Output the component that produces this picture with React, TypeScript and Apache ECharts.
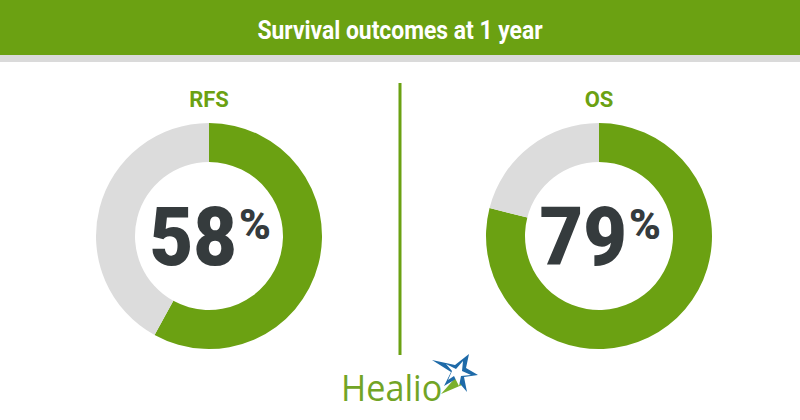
import React, { useEffect, useRef } from "react";
import * as echarts from "echarts";

const title = "Survival outcomes at 1 year";
const categories = ["RFS", "OS"];
const values = [58, 79];
const brand = "Healio";

const GREEN = "#6ba112";
const GRAY = "#dcdcdc";
const DARK = "#353b3d";

export default function App() {
  const ref = useRef<HTMLDivElement>(null);
  useEffect(() => {
    if (!ref.current) return;
    const chart = echarts.init(ref.current, null, { renderer: "svg" });
    const centersX = [209, 599];
    const cy = 236;
    const series: any[] = categories.map((c, i) => ({
      type: "pie",
      name: c,
      center: [centersX[i], cy],
      radius: [74, 113],
      startAngle: 90,
      clockwise: true,
      silent: true,
      label: { show: false },
      labelLine: { show: false },
      data: [
        { value: values[i], name: c, itemStyle: { color: GREEN } },
        { value: 100 - values[i], name: "rest", itemStyle: { color: GRAY } },
      ],
    }));
    const graphics: any[] = [
      { type: "rect", shape: { x: 0, y: 0, width: 800, height: 55 }, style: { fill: GREEN } },
      { type: "rect", shape: { x: 0, y: 55, width: 800, height: 7 }, style: { fill: "#dadada" } },
      {
        type: "text",
        x: 400,
        y: 30,
        scaleX: 0.88,
        style: {
          text: title,
          fill: "#ffffff",
          font: "bold 26px Roboto",
          align: "center",
          verticalAlign: "middle",
        },
      },
      {
        type: "line",
        shape: { x1: 400, y1: 83, x2: 400, y2: 355 },
        style: { stroke: GREEN, lineWidth: 3 },
      },
      {
        type: "text",
        x: 341,
        y: 387,
        scaleX: 0.95,
        style: {
          text: brand,
          fill: "#72a425",
          font: "36px 'Open Sans'",
          align: "left",
          verticalAlign: "middle",
        },
      },
      {
        type: "polygon",
        shape: { points: [[456, 377], [441, 394], [462, 385]] },
        style: { fill: "#7bb02a" },
      },
      {
        type: "polygon",
        shape: {
          points: [
            [432, 360], [455, 365], [469, 354], [466, 368], [478, 375],
            [464, 377], [467, 392], [456, 379], [444, 386], [451, 372],
          ],
        },
        style: { fill: "#1e6aa8" },
      },
      {
        type: "polygon",
        shape: {
          points: [[446, 364], [456, 369], [463, 361], [462, 371], [471, 375], [461, 376], [459, 386], [454, 376], [448, 380], [452, 371]],
        },
        style: { fill: "#ffffff" },
      },
    ];
    categories.forEach((c, i) => {
      const cx = centersX[i];
      graphics.push({
        type: "text",
        x: cx,
        y: 99,
        style: { text: c, fill: GREEN, font: "bold 22px Roboto", align: "center", verticalAlign: "middle" },
      });
      graphics.push({
        type: "text",
        x: cx + 28,
        y: 237,
        scaleX: 0.92,
        style: { text: String(values[i]), fill: DARK, font: "900 82px Roboto", align: "right", verticalAlign: "middle" },
      });
      graphics.push({
        type: "text",
        x: cx + 30,
        y: 224,
        style: { text: "%", fill: DARK, font: "900 43px Roboto", align: "left", verticalAlign: "middle" },
      });
    });
    chart.setOption({
      animation: false,
      backgroundColor: "#ffffff",
      series,
      graphic: graphics,
    });
    return () => chart.dispose();
  }, []);
  return (
    <div
      ref={ref}
      style={{ position: "fixed", left: 0, top: 0, width: 800, height: 420 }}
    />
  );
}
